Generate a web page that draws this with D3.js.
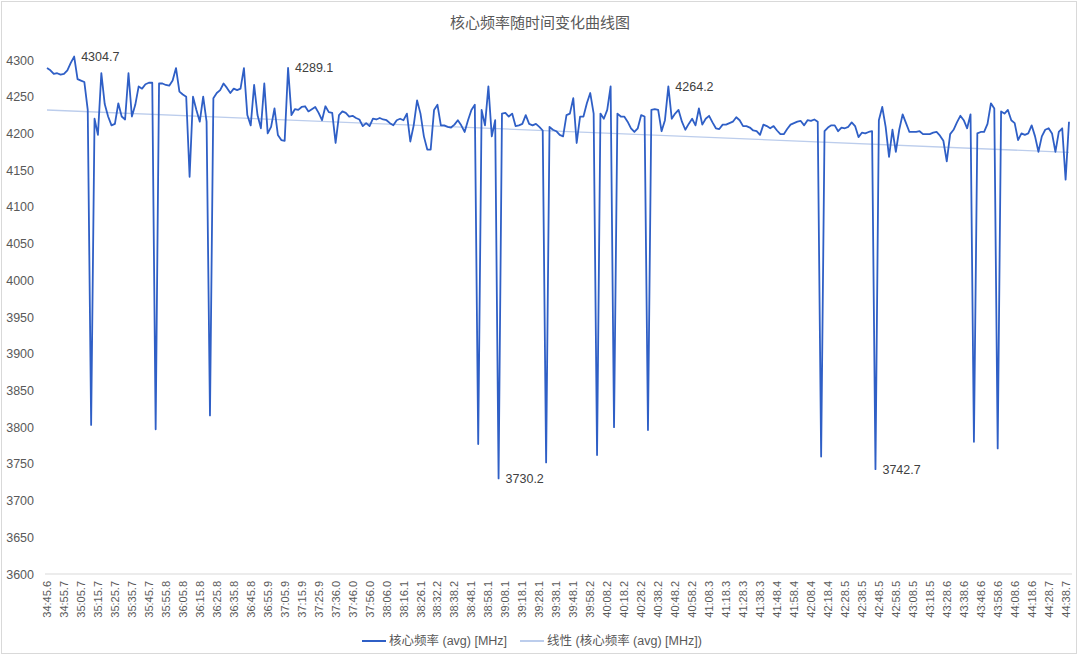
<!DOCTYPE html>
<html>
<head>
<meta charset="utf-8">
<script src="https://cdn.jsdelivr.net/npm/d3@7"></script>
<style>
  body { margin: 0; background: #ffffff; }
  text { font-family: "Liberation Sans", Arial, "Noto Sans CJK SC", sans-serif; }
</style>
</head>
<body>
<script>
// chart data

var chartTitle = "核心频率随时间变化曲线图";

// x category labels (one every 5 samples)
var timeLabels = [
    "34:45.6","34:55.7","35:05.7","35:15.7","35:25.7","35:35.7","35:45.7","35:55.8","36:05.8","36:15.8",
    "36:25.8","36:35.8","36:45.8","36:55.9","37:05.9","37:15.9","37:25.9","37:36.0","37:46.0","37:56.0",
    "38:06.0","38:16.1","38:26.1","38:32.2","38:38.2","38:48.1","38:58.1","39:08.1","39:18.1","39:28.1",
    "39:38.1","39:48.1","39:58.2","40:08.2","40:18.2","40:28.2","40:38.2","40:48.2","40:58.2","41:08.3",
    "41:18.3","41:28.3","41:38.3","41:48.4","41:58.4","42:08.4","42:18.4","42:28.5","42:38.5","42:48.5",
    "42:58.5","43:08.5","43:18.5","43:28.6","43:38.6","43:48.6","43:58.6","44:08.6","44:18.6","44:28.7",
    "44:38.7"
];

// core clock (avg) in MHz, one value per sample
var coreFreq = [
    4289, 4286, 4281, 4282, 4280, 4281, 4286, 4296, 4304.7, 4274,
    4272, 4270, 4232, 3803, 4220, 4198, 4282, 4240, 4223, 4211,
    4213, 4241, 4223, 4219, 4282, 4223, 4239, 4264, 4261, 4267,
    4269, 4269, 3797, 4268, 4268, 4266, 4265, 4272, 4289, 4257,
    4253, 4250, 4141, 4250, 4232, 4216, 4250, 4216, 3816, 4248,
    4255, 4259, 4268, 4262, 4255, 4261, 4259, 4261, 4289, 4225,
    4211, 4266, 4225, 4207, 4268, 4200, 4209, 4234, 4198, 4191,
    4190, 4289.1, 4225, 4233, 4232, 4236, 4237, 4230, 4233, 4236,
    4228, 4218, 4237, 4229, 4228, 4187, 4225, 4230, 4228, 4223,
    4224, 4221, 4219, 4210, 4214, 4210, 4220, 4219, 4221, 4219,
    4218, 4214, 4211, 4218, 4220, 4218, 4227, 4189, 4211, 4245,
    4227, 4196, 4178, 4178, 4232, 4239, 4211, 4211, 4209, 4208,
    4212, 4218, 4211, 4202, 4218, 4232, 4239, 3777, 4232, 4211,
    4264, 4196, 4218, 3730.2, 4227, 4228, 4223, 4227, 4210, 4211,
    4213, 4225, 4213, 4211, 4213, 4209, 4204, 3752, 4209, 4205,
    4203, 4198, 4196, 4225, 4227, 4248, 4187, 4223, 4223, 4241,
    4255, 4227, 3762, 4227, 4220, 4232, 4264, 3800, 4227, 4223,
    4223, 4216, 4207, 4202, 4207, 4225, 4223, 3796, 4232, 4233,
    4232, 4203, 4218, 4264.2, 4220, 4227, 4232, 4216, 4205, 4213,
    4220, 4211, 4234, 4212, 4220, 4224, 4215, 4207, 4206, 4212,
    4212, 4214, 4216, 4222, 4218, 4210, 4210, 4208, 4204, 4203,
    4198, 4212, 4210, 4207, 4210, 4204, 4199, 4199, 4206, 4212,
    4214, 4216, 4217, 4211, 4218, 4217, 4219, 4216, 3760, 4203,
    4208, 4211, 4211, 4203, 4208, 4207, 4209, 4215, 4210, 4195,
    4201, 4200, 4202, 4203, 3742.7, 4218, 4236, 4209, 4168, 4205,
    4175, 4205, 4226, 4214, 4202, 4202, 4202, 4203, 4199, 4199,
    4199, 4201, 4202, 4197, 4190, 4162, 4199, 4205, 4215, 4224,
    4218, 4207, 4226, 3780, 4200, 4202, 4202, 4213, 4241, 4234,
    3771, 4230, 4227, 4232, 4218, 4214, 4191, 4200, 4198, 4200,
    4211, 4196, 4175, 4196, 4205, 4207, 4200, 4175, 4202, 4207,
    4137, 4216
];

// y axis ticks
var yTicks = [3600, 3650, 3700, 3750, 3800, 3850, 3900, 3950, 4000, 4050, 4100, 4150, 4200, 4250, 4300];

// points that carry a data label
var labeledValues = [4304.7, 4289.1, 4264.2, 3730.2, 3742.7];

var seriesName = "核心频率 (avg) [MHz]",
    trendName = "线性 (核心频率 (avg) [MHz])";

window.onload = drawChart();

function drawChart(){
    var width = 1080,
        height = 656;

    var lineColor = "#2f5fc6",
        trendColor = "#bccdec",
        textColor = "#595959";

    var svg = d3.select("body")
        .append("svg")
        .attr("width", width)
        .attr("height", height);

    //outer chart border
    svg.append("rect")
        .attr("x", 1.5)
        .attr("y", 1.5)
        .attr("width", 1075)
        .attr("height", 652)
        .attr("fill", "#ffffff")
        .attr("stroke", "#d9d9d9");

    //scales (x by sample index, category axis)
    var x = d3.scaleLinear()
        .domain([0, coreFreq.length - 1])
        .range([47, 1069]);

    var y = d3.scaleLinear()
        .domain([3600, 4300])
        .range([574, 60]);

    //title
    svg.append("text")
        .attr("x", width / 2)
        .attr("y", 28)
        .attr("text-anchor", "middle")
        .attr("font-size", "15px")
        .attr("fill", textColor)
        .text(chartTitle);

    //y axis labels, no gridlines
    var yAxis = d3.axisLeft(y)
        .tickValues(yTicks)
        .tickSize(0)
        .tickPadding(0)
        .tickFormat(d3.format("d"));

    var yg = svg.append("g")
        .attr("transform", "translate(34,0)")
        .call(yAxis);
    yg.select(".domain").remove();
    yg.selectAll("text")
        .attr("font-size", "12.5px")
        .attr("fill", textColor)
        .style("font-family", "'Liberation Sans', Arial, sans-serif");

    //bottom axis line at 3600
    svg.append("line")
        .attr("x1", 45)
        .attr("x2", 1072)
        .attr("y1", y(3600))
        .attr("y2", y(3600))
        .attr("stroke", "#d9d9d9")
        .attr("stroke-width", 1);

    //x tick labels, rotated
    var tickIdx = timeLabels.map(function(d, i){ return i * 5; });
    var xAxis = d3.axisBottom(x)
        .tickValues(tickIdx)
        .tickSize(0)
        .tickFormat(function(d){ return timeLabels[d / 5]; });

    var xg = svg.append("g")
        .attr("transform", "translate(0," + (y(3600) + 7) + ")")
        .call(xAxis);
    xg.select(".domain").remove();
    xg.selectAll("text")
        .attr("font-size", "11px")
        .attr("fill", textColor)
        .style("font-family", "'Liberation Sans', Arial, sans-serif")
        .attr("text-anchor", "end")
        .attr("dy", "0.32em")
        .attr("y", 0)
        .attr("x", 0)
        .attr("transform", "rotate(-90)");

    //linear trend (least squares on sample index)
    var n = coreFreq.length,
        mx = d3.mean(coreFreq, function(d, i){ return i; }),
        my = d3.mean(coreFreq),
        sxy = d3.sum(coreFreq, function(d, i){ return (i - mx) * (d - my); }),
        sxx = d3.sum(coreFreq, function(d, i){ return (i - mx) * (i - mx); }),
        slope = sxy / sxx,
        icpt = my - slope * mx;

    svg.append("line")
        .attr("class", "trend")
        .attr("x1", x(0))
        .attr("y1", y(icpt))
        .attr("x2", x(n - 1))
        .attr("y2", y(icpt + slope * (n - 1)))
        .attr("stroke", trendColor)
        .attr("stroke-width", 1.3);

    //main series
    var line = d3.line()
        .x(function(d, i){ return x(i); })
        .y(function(d){ return y(d); });

    svg.append("path")
        .datum(coreFreq)
        .attr("class", "freq")
        .attr("d", line)
        .attr("fill", "none")
        .attr("stroke", lineColor)
        .attr("stroke-width", 1.8)
        .attr("stroke-linejoin", "round");

    //data labels, right of the point
    svg.selectAll(".dlabel")
        .data(labeledValues)
        .enter()
        .append("text")
        .attr("class", "dlabel")
        .attr("x", function(d){ return x(coreFreq.indexOf(d)) + 7; })
        .attr("y", function(d){ return y(d); })
        .attr("dy", "0.35em")
        .attr("font-size", "12.5px")
        .attr("fill", "#404040")
        .text(function(d){ return d.toFixed(1); });

    //legend
    var legend = [
        {name: seriesName, color: lineColor, x: 362},
        {name: trendName, color: trendColor, x: 520}
    ];
    var lg = svg.selectAll(".legend")
        .data(legend)
        .enter()
        .append("g")
        .attr("class", "legend")
        .attr("transform", function(d){ return "translate(" + d.x + ",641)"; });

    lg.append("line")
        .attr("x1", 0)
        .attr("x2", 24)
        .attr("stroke", function(d){ return d.color; })
        .attr("stroke-width", 2);

    lg.append("text")
        .attr("x", 27)
        .attr("dy", "0.35em")
        .attr("font-size", "12.5px")
        .attr("fill", textColor)
        .text(function(d){ return d.name; });
};
</script>
</body>
</html>
